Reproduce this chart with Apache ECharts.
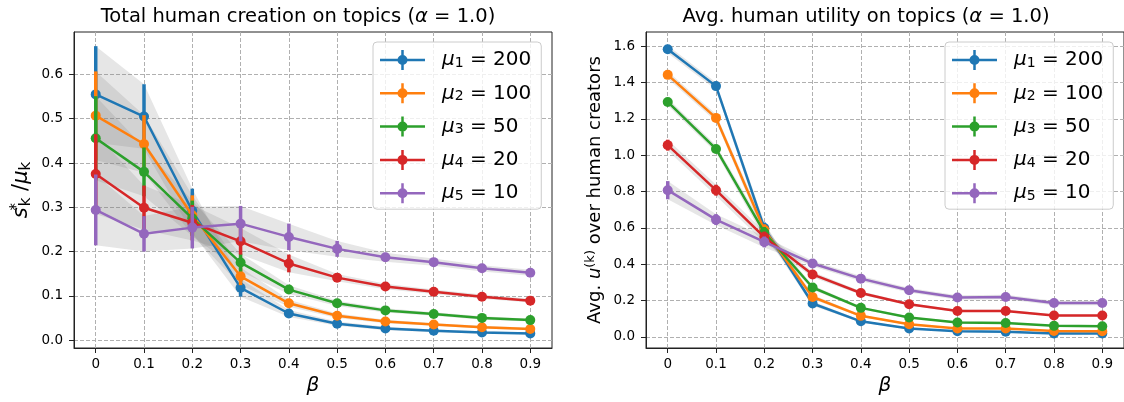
<!DOCTYPE html>
<html><head><meta charset="utf-8">
<script src="https://cdn.jsdelivr.net/npm/echarts@6/dist/echarts.min.js"></script>
<style>html,body{margin:0;padding:0;background:#fff}#c{width:1124px;height:402px}</style>
</head><body><div id="c"></div>
<script>
// ---------- data ----------
const betas = [0, 0.1, 0.2, 0.3, 0.4, 0.5, 0.6, 0.7, 0.8, 0.9];
const muSubs = ['1', '2', '3', '4', '5'];
const muVals = ['200', '100', '50', '20', '10'];

// Left: total human creation s*_k / mu_k (mean)
const creation1 = [0.555, 0.505, 0.292, 0.118, 0.060, 0.037, 0.026, 0.021, 0.017, 0.015];
const creation2 = [0.507, 0.443, 0.282, 0.144, 0.083, 0.055, 0.042, 0.035, 0.029, 0.025];
const creation3 = [0.456, 0.380, 0.275, 0.175, 0.114, 0.083, 0.067, 0.059, 0.050, 0.045];
const creation4 = [0.375, 0.299, 0.265, 0.223, 0.173, 0.141, 0.121, 0.109, 0.098, 0.089];
const creation5 = [0.294, 0.240, 0.254, 0.263, 0.233, 0.206, 0.187, 0.176, 0.162, 0.152];
// Left: error (std)
const creationErr1 = [0.109, 0.073, 0.050, 0.020, 0.008, 0.005, 0.004, 0.003, 0.003, 0.002];
const creationErr2 = [0.100, 0.065, 0.045, 0.020, 0.008, 0.005, 0.004, 0.003, 0.003, 0.003];
const creationErr3 = [0.095, 0.055, 0.040, 0.020, 0.010, 0.006, 0.005, 0.004, 0.004, 0.003];
const creationErr4 = [0.090, 0.050, 0.040, 0.030, 0.020, 0.008, 0.006, 0.005, 0.005, 0.004];
const creationErr5 = [0.080, 0.040, 0.047, 0.040, 0.030, 0.018, 0.010, 0.008, 0.007, 0.007];

// Right: avg human utility (mean)
const utility1 = [1.584, 1.381, 0.600, 0.184, 0.086, 0.046, 0.031, 0.028, 0.019, 0.019];
const utility2 = [1.443, 1.206, 0.590, 0.220, 0.116, 0.070, 0.046, 0.046, 0.033, 0.031];
const utility3 = [1.294, 1.035, 0.575, 0.272, 0.160, 0.107, 0.079, 0.077, 0.061, 0.059];
const utility4 = [1.056, 0.808, 0.550, 0.344, 0.242, 0.180, 0.143, 0.143, 0.118, 0.118];
const utility5 = [0.808, 0.646, 0.523, 0.404, 0.321, 0.257, 0.217, 0.220, 0.187, 0.187];
// Right: error (std)
const utilityErr1 = [0.020, 0.020, 0.030, 0.012, 0.006, 0.004, 0.003, 0.003, 0.002, 0.002];
const utilityErr2 = [0.020, 0.020, 0.030, 0.012, 0.006, 0.004, 0.003, 0.003, 0.003, 0.003];
const utilityErr3 = [0.020, 0.020, 0.030, 0.012, 0.007, 0.005, 0.004, 0.004, 0.003, 0.003];
const utilityErr4 = [0.030, 0.030, 0.030, 0.015, 0.010, 0.007, 0.006, 0.006, 0.005, 0.005];
const utilityErr5 = [0.050, 0.030, 0.030, 0.015, 0.015, 0.012, 0.012, 0.012, 0.012, 0.012];

const xTickValues = [0, 0.1, 0.2, 0.3, 0.4, 0.5, 0.6, 0.7, 0.8, 0.9];
const leftYTicks = [0, 0.1, 0.2, 0.3, 0.4, 0.5, 0.6];
const rightYTicks = [0, 0.2, 0.4, 0.6, 0.8, 1.0, 1.2, 1.4, 1.6];

const colors = ['#1f77b4', '#ff7f0e', '#2ca02c', '#d62728', '#9467bd'];
const FONT = 'DejaVu Sans';

// ---------- chart ----------
const chart = echarts.init(document.getElementById('c'), null, {renderer: 'canvas'});

const leftMeans = [creation1, creation2, creation3, creation4, creation5];
const leftErrs = [creationErr1, creationErr2, creationErr3, creationErr4, creationErr5];
const rightMeans = [utility1, utility2, utility3, utility4, utility5];
const rightErrs = [utilityErr1, utilityErr2, utilityErr3, utilityErr4, utilityErr5];

function seriesFor(axisIdx, means, errs) {
  const out = [];
  means.forEach((m, k) => {
    const e = errs[k];
    const rows = betas.map((b, i) => [b, m[i] - e[i], m[i] + e[i]]);
    out.push({
      type: 'custom', xAxisIndex: axisIdx, yAxisIndex: axisIdx, silent: true, z: 1,
      encode: {x: 0, y: [1, 2]},
      data: rows,
      renderItem: function (params, api) {
        if (params.dataIndexInside !== 0) return null;
        const n = params.dataInsideLength;
        const up = [], lo = [];
        for (let i = 0; i < n; i++) {
          up.push(api.coord([api.value(0, i), api.value(2, i)]));
          lo.unshift(api.coord([api.value(0, i), api.value(1, i)]));
        }
        return {type: 'polygon', shape: {points: up.concat(lo)},
          style: {fill: 'rgba(128,128,128,0.2)'}};
      }
    });
    out.push({
      type: 'custom', xAxisIndex: axisIdx, yAxisIndex: axisIdx, silent: true, z: 2 + 2 * k,
      encode: {x: 0, y: [1, 2]},
      data: rows,
      renderItem: function (params, api) {
        const p1 = api.coord([api.value(0), api.value(1)]);
        const p2 = api.coord([api.value(0), api.value(2)]);
        return {type: 'line', shape: {x1: p1[0], y1: p1[1], x2: p2[0], y2: p2[1]},
          style: {stroke: colors[k], lineWidth: 3.5}};
      }
    });
    out.push({
      type: 'line', name: 'mu' + k, xAxisIndex: axisIdx, yAxisIndex: axisIdx, z: 3 + 2 * k,
      data: betas.map((b, i) => [b, m[i]]),
      symbol: 'circle', symbolSize: 10, showSymbol: true,
      lineStyle: {width: 2.5, color: colors[k]},
      itemStyle: {color: colors[k]},
      emphasis: {disabled: true}
    });
  });
  return out;
}

const legendIcon = 'path://M0,8.75h45v2.5h-45z M21.25,0h2.5v20h-2.5z M17.5,10a5,5 0 1,1 10,0a5,5 0 1,1 -10,0z';
const legendRich = {
  m: {fontFamily: FONT, fontStyle: 'italic', fontSize: 20, lineHeight: 20, color: '#000'},
  s: {fontFamily: FONT, fontSize: 14, lineHeight: 12, verticalAlign: 'bottom', color: '#000'},
  t: {fontFamily: FONT, fontSize: 20, lineHeight: 20, color: '#000'}
};
function legendFmt(name) {
  const k = +name.slice(2);
  return '{m|μ}{s|' + muSubs[k] + '}{t| = ' + muVals[k] + '}';
}
function makeLegend(left) {
  return {
    orient: 'vertical', left: left, top: 42,
    data: ['mu0', 'mu1', 'mu2', 'mu3', 'mu4'],
    icon: legendIcon, itemWidth: 45, itemHeight: 20, itemGap: 13.3,
    padding: [8, 10, 6, 7],
    backgroundColor: 'rgba(255,255,255,0.8)', borderColor: '#cccccc', borderWidth: 1, borderRadius: 4,
    selectedMode: false,
    formatter: legendFmt,
    textStyle: {fontFamily: FONT, fontSize: 20, color: '#000', padding: [0, 0, 0, 12], rich: legendRich}
  };
}

const gridLine = {show: true, lineStyle: {color: '#b0b0b0', width: 1, type: [4, 2]}};

function xAxisFor(gi) {
  return {
    type: 'value', gridIndex: gi, min: -0.045, max: 0.945, splitNumber: 10, minInterval: 0.1, maxInterval: 0.1,
    name: 'β', nameLocation: 'middle', nameGap: 22,
    nameTextStyle: {fontFamily: FONT, fontSize: 20, fontStyle: 'italic', color: '#000'},
    axisLine: {show: true, onZero: false, lineStyle: {color: '#222', width: 1}},
    axisTick: {show: true, length: 5, lineStyle: {color: '#222'}, customValues: xTickValues},
    axisLabel: {margin: 9, customValues: xTickValues,
      fontFamily: FONT, fontSize: 13.5, color: '#000',
      formatter: v => (Math.abs(v) < 1e-9 ? '0' : String(+v.toFixed(1)))},
    splitLine: gridLine
  };
}
function yAxisFor(gi, min, max, step, ticks, name, rich, gap) {
  return {
    type: 'value', gridIndex: gi, min: min, max: max, splitNumber: Math.round((max - min) / step),
    minInterval: step, maxInterval: step,
    name: name, nameLocation: 'middle', nameRotate: 90, nameGap: gap,
    nameTextStyle: {fontFamily: FONT, fontSize: 18, color: '#000', rich: rich},
    axisLine: {show: true, onZero: false, lineStyle: {color: '#222', width: 1}},
    axisTick: {show: true, length: 5, lineStyle: {color: '#222'}, customValues: ticks},
    axisLabel: {margin: 11, customValues: ticks,
      fontFamily: FONT, fontSize: 13.5, color: '#000',
      formatter: v => v.toFixed(1)},
    splitLine: gridLine
  };
}

const leftNameRich = {
  i: {fontFamily: FONT, fontStyle: 'italic', fontSize: 21, lineHeight: 24, color: '#000'},
  n: {fontFamily: FONT, fontSize: 21, lineHeight: 24, color: '#000'},
  sup: {fontFamily: FONT, fontSize: 15, lineHeight: 13, verticalAlign: 'top', color: '#000', width: 1},
  sub: {fontFamily: FONT, fontSize: 15, lineHeight: 13, verticalAlign: 'bottom', color: '#000'}
};
const rightNameRich = {
  i: {fontFamily: FONT, fontStyle: 'italic', fontSize: 18, lineHeight: 22, color: '#000'},
  n: {fontFamily: FONT, fontSize: 18, lineHeight: 22, color: '#000'},
  sup: {fontFamily: FONT, fontSize: 13, lineHeight: 12, verticalAlign: 'top', color: '#000'}
};
const titleRich = {
  n: {fontFamily: FONT, fontSize: 19.5, color: '#000'},
  a: {fontFamily: FONT, fontSize: 19.5, fontStyle: 'italic', color: '#000'}
};

chart.setOption({
  animation: false,
  backgroundColor: '#fff',
  title: [
    {text: '{n|Total human creation on topics (}{a|α}{n| = 1.0)}', left: 293, top: 2, textAlign: 'center',
      textStyle: {fontWeight: 'normal', rich: titleRich}},
    {text: '{n|Avg. human utility on topics (}{a|α}{n| = 1.0)}', left: 861, top: 2, textAlign: 'center',
      textStyle: {fontWeight: 'normal', rich: titleRich}}
  ],
  legend: [makeLegend(373), makeLegend(945)],
  grid: [
    {left: 74, top: 32, width: 478, height: 316, show: true, borderColor: '#222', borderWidth: 1, backgroundColor: 'transparent'},
    {left: 646, top: 32, width: 480, height: 316, show: true, borderColor: '#222', borderWidth: 1, backgroundColor: 'transparent'}
  ],
  xAxis: [xAxisFor(0), xAxisFor(1)],
  yAxis: [
    yAxisFor(0, -0.018, 0.696, 0.1, leftYTicks, '{i|s}{sup|*}{sub|k}{n| /}{i|μ}{sub|k}', leftNameRich, 40),
    yAxisFor(1, -0.061, 1.679, 0.2, rightYTicks, '{n|Avg. }{i|u}{sup|(k)}{n| over human creators}', rightNameRich, 40)
  ],
  series: seriesFor(0, leftMeans, leftErrs).concat(seriesFor(1, rightMeans, rightErrs))
});
</script></body></html>
